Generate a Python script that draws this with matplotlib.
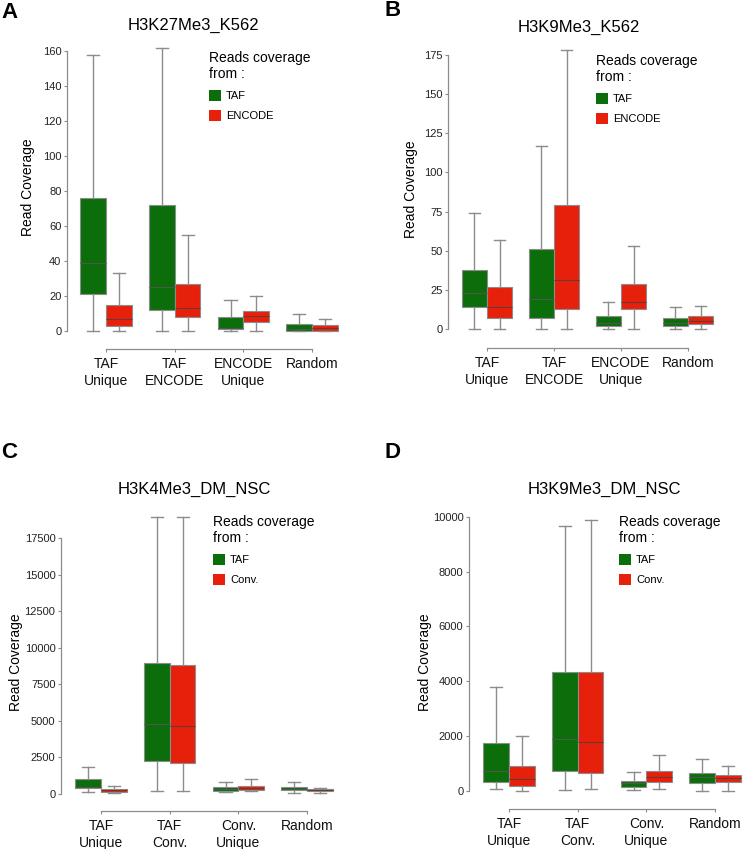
import matplotlib
matplotlib.use("Agg")
import matplotlib.pyplot as plt
from matplotlib.patches import Patch

plt.rcParams['font.family'] = ['Liberation Sans', 'DejaVu Sans']

# ---------------- data ----------------
cats_A = ["TAF\nUnique", "TAF\nENCODE", "ENCODE\nUnique", "Random"]
A_taf_lo = [0, 0, 0, 0]
A_taf_q1 = [21, 12, 1, 0]
A_taf_med = [39, 25, 2, 1]
A_taf_q3 = [76, 72, 8, 4]
A_taf_hi = [158, 162, 18, 10]
A_enc_lo = [0, 0, 0, 0]
A_enc_q1 = [3, 8, 5, 0]
A_enc_med = [7, 13, 8.5, 2]
A_enc_q3 = [15, 27, 11.3, 3.2]
A_enc_hi = [33, 55, 20, 7]

cats_B = ["TAF\nUnique", "TAF\nENCODE", "ENCODE\nUnique", "Random"]
B_taf_lo = [0, 0, 0, 0]
B_taf_q1 = [14, 7, 2, 2]
B_taf_med = [23, 19, 4, 4]
B_taf_q3 = [38, 51, 8, 7]
B_taf_hi = [74, 117, 17, 14]
B_enc_lo = [0, 0, 0, 0]
B_enc_q1 = [7, 13, 13, 3]
B_enc_med = [14, 31, 17, 5]
B_enc_q3 = [27, 79, 29, 8]
B_enc_hi = [57, 178, 53, 15]

cats_C = ["TAF\nUnique", "TAF\nConv.", "Conv.\nUnique", "Random"]
C_taf_lo = [150, 190, 100, 80]
C_taf_q1 = [400, 2270, 220, 240]
C_taf_med = [500, 4760, 350, 350]
C_taf_q3 = [990, 8940, 490, 445]
C_taf_hi = [1860, 18940, 830, 790]
C_conv_lo = [80, 190, 190, 80]
C_conv_q1 = [150, 2090, 260, 170]
C_conv_med = [250, 4670, 400, 230]
C_conv_q3 = [330, 8830, 560, 310]
C_conv_hi = [540, 18940, 990, 420]

cats_D = ["TAF\nUnique", "TAF\nConv.", "Conv.\nUnique", "Random"]
D_taf_lo = [60, 40, 40, 0]
D_taf_q1 = [340, 740, 160, 300]
D_taf_med = [740, 1880, 280, 500]
D_taf_q3 = [1740, 4330, 365, 640]
D_taf_hi = [3800, 9660, 680, 1150]
D_conv_lo = [10, 70, 90, 0]
D_conv_q1 = [180, 640, 340, 340]
D_conv_med = [430, 1790, 510, 460]
D_conv_q3 = [910, 4350, 730, 570]
D_conv_hi = [2000, 9880, 1300, 910]

# ---------------- style ----------------
GREEN = '#0b6e0b'
RED = '#e6200b'
GRAY = '#8c8c8c'
W, H = 746, 849

fig = plt.figure(figsize=(W / 100, H / 100), dpi=100)
fig.patch.set_facecolor('white')


def stats(lo, q1, med, q3, hi):
    return [dict(whislo=a, q1=b, med=c, q3=d, whishi=e, fliers=[])
            for a, b, c, d, e in zip(lo, q1, med, q3, hi)]


def panel(letter, letter_xy, title, title_xy, ylabel_xy, cats, s1, s2, labels,
          L, c1, s, y0, k, Bm, T, yticks, leg_xy):
    R = c1 + 3.55 * s
    ax = fig.add_axes([L / W, 1 - Bm / H, (R - L) / W, (Bm - T) / H])
    ax.set_xlim(1 - (c1 - L) / s, 1 + (R - c1) / s)
    ax.set_ylim(-(Bm - y0) / k, (y0 - T) / k)
    bw = 0.375
    pos = range(1, len(cats) + 1)
    for st, col, off, mcol in ((s1, GREEN, -bw / 2, '#4a5a4a'),
                               (s2, RED, bw / 2, '#6a3a30')):
        ax.bxp(st, positions=[p + off for p in pos], widths=bw,
               patch_artist=True, showfliers=False,
               boxprops=dict(facecolor=col, edgecolor=GRAY, linewidth=0.8),
               medianprops=dict(color=mcol, linewidth=0.8),
               whiskerprops=dict(color=GRAY, linewidth=1.0),
               capprops=dict(color=GRAY, linewidth=1.0),
               capwidths=bw * 0.47, manage_ticks=False)
    for sp in ('top', 'right'):
        ax.spines[sp].set_visible(False)
    ax.spines['left'].set_bounds(yticks[0], yticks[-1])
    ax.spines['bottom'].set_bounds(1, len(cats))
    for sp in ('left', 'bottom'):
        ax.spines[sp].set_color(GRAY)
        ax.spines[sp].set_linewidth(0.9)
    ax.set_yticks(yticks)
    ax.set_yticklabels([str(t) for t in yticks], fontsize=8, color='#222222')
    ax.set_xticks(list(pos))
    ax.set_xticklabels(cats, fontsize=10, color='#111111', linespacing=1.2)
    ax.tick_params(axis='y', length=2.5, width=0.8, color=GRAY, pad=1.5)
    ax.tick_params(axis='x', length=2, width=0.8, color=GRAY, pad=4)
    ax.set_facecolor('none')

    fig.text(letter_xy[0] / W, 1 - letter_xy[1] / H, letter, fontsize=16,
             fontweight='bold', ha='left', va='center')
    fig.text(title_xy[0] / W, 1 - title_xy[1] / H, title, fontsize=12,
             ha='center', va='center')
    fig.text(ylabel_xy[0] / W, 1 - ylabel_xy[1] / H, "Read Coverage",
             fontsize=10, rotation=90, ha='center', va='center')

    handles = [Patch(facecolor=GREEN, edgecolor='none'),
               Patch(facecolor=RED, edgecolor='none')]
    leg = ax.legend(handles, labels, title="Reads coverage\nfrom :",
                    loc='upper left',
                    bbox_to_anchor=(leg_xy[0] / W, 1 - leg_xy[1] / H),
                    bbox_transform=fig.transFigure, frameon=False,
                    fontsize=8, title_fontsize=10, alignment='left',
                    handlelength=1.1, handleheight=1.1, handletextpad=0.45,
                    labelspacing=0.8, borderpad=0, borderaxespad=0)
    leg.get_title().set_linespacing(1.2)
    return ax


panel("A", (1, 13), "H3K27Me3_K562", (193, 25), (28, 187), cats_A,
      stats(A_taf_lo, A_taf_q1, A_taf_med, A_taf_q3, A_taf_hi),
      stats(A_enc_lo, A_enc_q1, A_enc_med, A_enc_q3, A_enc_hi),
      ["TAF", "ENCODE"],
      L=67, c1=106, s=68.7, y0=331, k=1.75, Bm=349, T=40,
      yticks=list(range(0, 161, 20)), leg_xy=(209, 51))

panel("B", (385, 11), "H3K9Me3_K562", (579, 27), (411, 189), cats_B,
      stats(B_taf_lo, B_taf_q1, B_taf_med, B_taf_q3, B_taf_hi),
      stats(B_enc_lo, B_enc_q1, B_enc_med, B_enc_q3, B_enc_hi),
      ["TAF", "ENCODE"],
      L=448, c1=487, s=67, y0=329, k=274 / 175, Bm=348, T=45,
      yticks=list(range(0, 176, 25)), leg_xy=(596, 54))

panel("C", (1, 453), "H3K4Me3_DM_NSC", (194, 489), (16, 662), cats_C,
      stats(C_taf_lo, C_taf_q1, C_taf_med, C_taf_q3, C_taf_hi),
      stats(C_conv_lo, C_conv_q1, C_conv_med, C_conv_q3, C_conv_hi),
      ["TAF", "Conv."],
      L=61, c1=101, s=68.7, y0=793.8, k=255.5 / 17500, Bm=811, T=510,
      yticks=list(range(0, 17501, 2500)), leg_xy=(213, 515))

panel("D", (385, 453), "H3K9Me3_DM_NSC", (604, 489), (425, 662), cats_D,
      stats(D_taf_lo, D_taf_q1, D_taf_med, D_taf_q3, D_taf_hi),
      stats(D_conv_lo, D_conv_q1, D_conv_med, D_conv_q3, D_conv_hi),
      ["TAF", "Conv."],
      L=469, c1=509, s=68.7, y0=791, k=274.3 / 10000, Bm=809, T=510,
      yticks=list(range(0, 10001, 2000)), leg_xy=(619, 515))

fig.savefig("out.png", dpi=100, facecolor='white')
